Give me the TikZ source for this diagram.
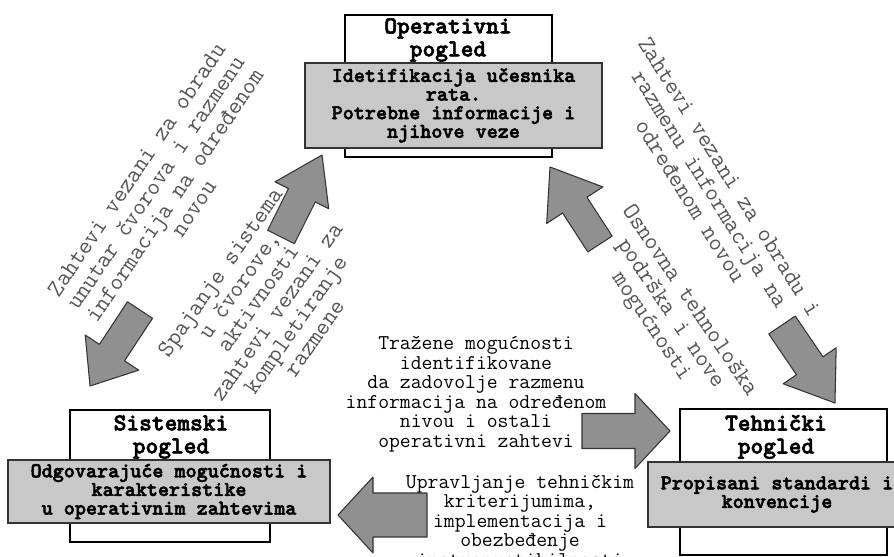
\documentclass[tikz,border=0pt]{standalone}
\usepackage{fontspec}
\renewcommand{\familydefault}{\ttdefault}
\newfontfamily\heavymono{lmmonolt10-bold.otf}[FakeBold=2.5]
\usetikzlibrary{calc}
\definecolor{boxgray}{HTML}{C8C8C8}
\definecolor{arrowgray}{HTML}{909090}
\definecolor{edgegray}{HTML}{333333}
\definecolor{notegray}{HTML}{555555}

\newcommand{\blockarrow}[5]{%
  \coordinate (#1-b) at ($(#2)!#5!(#1)$);
  \draw[bigarrow] ($(#1)!#3!90:(#2)$) -- ($(#1-b)!#3!90:(#2)$)
    -- ($(#1-b)!#4!90:(#2)$) -- (#2) -- ($(#1-b)!#4!-90:(#2)$)
    -- ($(#1-b)!#3!-90:(#2)$) -- ($(#1)!#3!-90:(#2)$) -- cycle;}

\begin{document}
\begin{tikzpicture}[x=0.2mm,y=-0.2mm,
  view/.style={draw=black,line width=1.6pt,fill=white,inner sep=0pt},
  content/.style={draw=edgegray,line width=0.7pt,fill=boxgray,inner sep=0pt,align=center,
    font=\heavymono\fontsize{12}{10.6}\selectfont},
  title/.style={align=center,inner sep=0pt,font=\heavymono\fontsize{13.8}{13.1}\selectfont},
  note/.style={align=center,inner sep=0pt,text=notegray,font=\fontsize{13.8}{13.1}\selectfont},
  flow/.style={align=center,inner sep=0pt,font=\fontsize{12}{11.1}\selectfont},
  bigarrow/.style={draw=edgegray,fill=arrowgray,line width=0.6pt,line join=round}]
  \useasboundingbox (0,0) rectangle (894,556);
  \clip (0,0) rectangle (894,556);
  \fill[white] (0,0) rectangle (894,556);

  \node[view,minimum width=41.4mm,minimum height=28.4mm] (opv) at (448.5,86) {};
  \node[title] (opt) at (448,40) {Operativni\\pogled};
  \node[content,minimum width=59.4mm,minimum height=17mm] (opc) at (453.5,105.5)
    {Idetifikacija učesnika\\rata.\\Potrebne informacije i\\njihove veze};

  \node[view,minimum width=40mm,minimum height=26.4mm] (sysv) at (170,476) {};
  \node[title] (syst) at (171,437) {Sistemski\\pogled};
  \node[content,minimum width=64.4mm,minimum height=12.6mm] (sysc) at (169,491.5)
    {Odgovarajuće mogućnosti i\\karakteristike\\u operativnim zahtevima};

  \node[view,minimum width=41.4mm,minimum height=29.2mm] (tehv) at (783.5,482) {};
  \node[title] (teht) at (776,437) {Tehnički\\pogled};
  \node[content,minimum width=51.6mm,minimum height=13mm] (tehc) at (777,494.5)
    {Propisani standardi i\\konvencije};

  \node[note,rotate=56] (nodereq) at (165,189)
    {Zahtevi vezani za obradu\\unutar čvorova i razmenu\\informacija na određenom\\novou};
  \node[note,rotate=55] (merge) at (267,305)
    {Spajanje sistema\\u čvorove,\\aktivnosti\\zahtevi vezani za\\kompletiranje\\razmene};
  \node[note,rotate=-58] (exchreq) at (710,189)
    {Zahtevi vezani za obradu i\\razmenu informacija na\\određenom novou};
  \node[note,rotate=-56] (support) at (670,314)
    {Osnovna tehnološka\\podrška i nove\\mogućnosti};

  \node[flow] (need) at (476,394) {Tražene mogućnosti\\identifikovane\\da zadovolje razmenu\\informacija na određenom\\nivou i ostali\\operativni zahtevi};
  \node[flow] (manage) at (520,523) {Upravljanje tehničkim\\kriterijumima,\\implementacija i\\obezbeđenje\\inetropretibilnosti};

  \coordinate (opsys) at (140,310);  \coordinate (opsysTip) at (90,386);
  \coordinate (sysop) at (281,237);  \coordinate (sysopTip) at (322,155);
  \coordinate (tehop) at (600,244);  \coordinate (tehopTip) at (550,167);
  \coordinate (opteh) at (782,325);  \coordinate (optehTip) at (835,403);
  \coordinate (systeh) at (582,431); \coordinate (systehTip) at (670,431);
  \coordinate (tehsys) at (427,515); \coordinate (tehsysTip) at (338,515);
  \blockarrow{opsys}{opsysTip}{3mm}{6.4mm}{8mm}
  \blockarrow{sysop}{sysopTip}{3mm}{6mm}{9mm}
  \blockarrow{tehop}{tehopTip}{2.9mm}{6.7mm}{9.1mm}
  \blockarrow{opteh}{optehTip}{3.2mm}{6.4mm}{9mm}
  \blockarrow{systeh}{systehTip}{3.5mm}{7.5mm}{7mm}
  \blockarrow{tehsys}{tehsysTip}{4.4mm}{7.6mm}{7mm}
\end{tikzpicture}
\end{document}
